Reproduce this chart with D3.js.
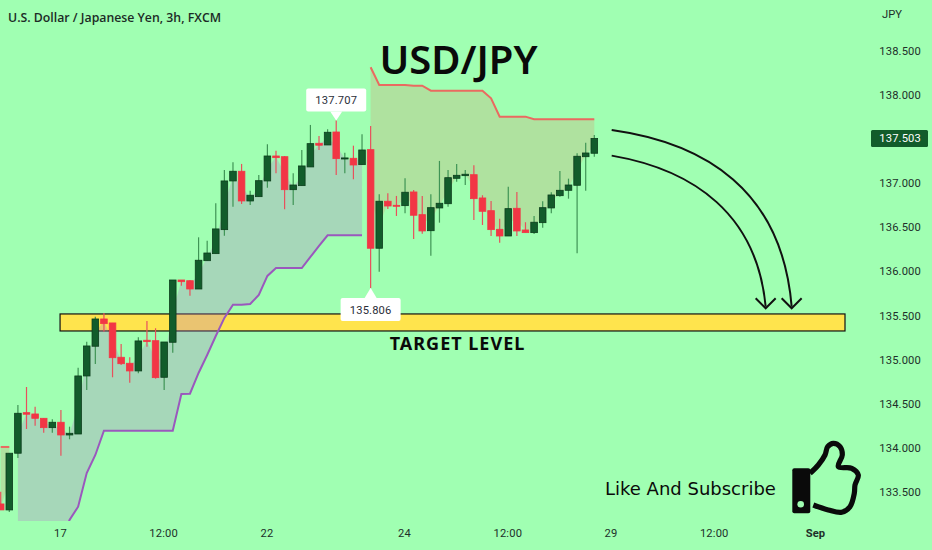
<!DOCTYPE html>
<html lang="en">
<head>
<meta charset="UTF-8">
<title>USD/JPY</title>
<script src="https://d3js.org/d3.v7.min.js"></script>
<style>
  html, body { margin: 0; padding: 0; background: #a0ffb2; }
  svg { display: block; }
  .axis text { font-family: Roboto, Arial, sans-serif; font-size: 11.2px; letter-spacing: 0.15px; fill: #20302a; }
  .axis path, .axis line { display: none; }
</style>
</head>
<body>
<svg width="932" height="550"></svg>
<script>
// candles (3h bars, last close 137.503)
const opens = [133.359,133.291,133.934,134.394,134.379,134.330,134.224,134.285,134.141,134.152,134.810,135.147,135.456,135.411,135.022,134.954,134.867,135.215,135.210,134.795,135.192,135.898,135.890,135.796,136.117,136.197,136.469,137.021,137.131,136.794,136.843,137.021,137.304,137.296,136.922,136.968,137.180,137.448,137.429,137.576,137.270,137.278,137.206,137.376,136.258,136.791,136.745,136.741,136.896,136.639,136.457,136.715,136.763,137.051,137.081,137.092,136.828,136.684,136.473,136.397,136.711,136.465,136.435,136.548,136.715,136.854,136.915,136.972,137.296,137.335];
const highs = [133.498,133.937,134.481,134.685,134.462,134.334,134.319,134.424,134.235,134.904,135.199,135.482,135.524,135.411,135.173,135.022,135.249,135.433,135.351,135.195,135.898,135.898,135.898,136.382,136.344,136.768,137.146,137.233,137.214,136.911,137.089,137.437,137.364,137.304,137.108,137.372,137.656,137.531,137.607,137.707,137.342,137.421,137.550,137.644,136.870,136.881,136.851,137.051,136.919,136.851,136.870,137.248,137.146,137.214,137.146,137.199,136.859,136.794,136.593,136.956,136.896,136.553,136.624,136.791,136.893,137.134,137.047,137.335,137.455,137.542];
const lows = [133.291,133.268,133.880,134.209,134.246,134.167,134.167,133.906,134.092,134.152,134.651,134.946,135.312,134.795,134.935,134.734,134.841,135.142,134.779,134.651,135.074,135.834,135.720,135.796,136.117,136.197,136.401,136.729,136.760,136.749,136.843,136.945,137.108,136.700,136.749,136.968,137.180,137.372,137.429,137.089,137.108,137.040,137.206,135.806,135.992,136.703,136.624,136.655,136.363,136.423,136.174,136.548,136.729,137.013,136.975,136.579,136.522,136.397,136.321,136.397,136.397,136.435,136.420,136.491,136.655,136.843,136.820,136.201,136.911,137.296];
const closes = [133.291,133.934,134.387,134.376,134.330,134.224,134.285,134.141,134.160,134.810,135.150,135.456,135.403,135.017,134.949,134.867,135.207,135.199,134.791,135.195,135.898,135.879,135.796,136.122,136.204,136.477,137.021,137.131,136.794,136.859,137.024,137.304,137.285,136.922,136.975,137.191,137.444,137.426,137.573,137.274,137.282,137.202,137.372,136.258,136.791,136.737,136.737,136.893,136.632,136.454,136.718,136.768,137.058,137.085,137.097,136.820,136.677,136.469,136.397,136.707,136.454,136.435,136.553,136.718,136.862,136.915,136.975,137.301,137.338,137.503];

// trend bands: one value per candle, null where the band is not active
const lowerBand = [null,null,132.9,132.9,132.9,132.9,132.9,132.9,133.177,133.328,133.710,133.914,134.190,134.190,134.190,134.190,134.190,134.190,134.190,134.190,134.190,134.606,134.609,134.844,135.048,135.263,135.468,135.618,135.618,135.626,135.728,135.944,136.034,136.034,136.034,136.034,136.159,136.284,136.405,136.405,136.405,136.405,136.405];
const upperBand = [134.005,134.005];
const upperBand2 = [138.310,138.109,138.109,138.109,138.109,138.100,138.101,138.045,138.045,138.045,138.045,138.045,138.045,138.045,137.958,137.750,137.750,137.750,137.750,137.720,137.720,137.720,137.720,137.720,137.720,137.720,137.720];
const upperBand2Start = 43;

const priceTicks = [138.5,138,137.5,137,136.5,136,135.5,135,134.5,134,133.5];
const timeTickIdx = [7,19,31,47,59,71,83,95];
const timeTickLabels = ["17","12:00","22","24","12:00","29","12:00","Sep"];

// drawn annotations in [candle index, price]: start, control, control, tip
const arrowOuter = [[71.02,137.599],[81.87,137.452],[90.82,136.919],[91.94,135.596]];
const arrowInner = [[71.02,137.308],[80.7,137.146],[87.91,136.635],[88.92,135.596]];
const targetZone = {x0: 6.9, x1: 98.14, top: 135.513, bottom: 135.320};

const bg = "#a0ffb2";
const svg = d3.select("svg");

const x = d3.scaleLinear().domain([0, 95]).range([0.7, 0.7 + 8.603 * 95]);
const y = d3.scaleLinear().domain([138.5, 133.5]).range([50.5, 491.5]);

svg.append("clipPath").attr("id", "pane").append("rect")
  .attr("x", 0).attr("y", 0).attr("width", 870).attr("height", 521);
const pane = svg.append("g").attr("clip-path", "url(#pane)");

// target zone
pane.append("rect")
  .attr("x", x(targetZone.x0)).attr("y", y(targetZone.top))
  .attr("width", x(targetZone.x1) - x(targetZone.x0))
  .attr("height", y(targetZone.bottom) - y(targetZone.top))
  .attr("fill", "#ffe44d").attr("stroke", "#111").attr("stroke-width", 1.2);

// band fills
const mid = i => (opens[i] + closes[i]) / 2;
const lowerIdx = d3.range(lowerBand.length).filter(i => lowerBand[i] != null);
const area = d3.area().x(i => x(i));
pane.append("path")
  .attr("d", area.y0(i => y(lowerBand[i])).y1(i => y(mid(i)))(lowerIdx))
  .attr("fill", "#b875cb").attr("fill-opacity", 0.29);
const upperIdx2 = d3.range(upperBand2.length).map(k => k + upperBand2Start);
pane.append("path")
  .attr("d", area.y0(i => y(upperBand2[i - upperBand2Start])).y1(i => y(mid(i)))(upperIdx2))
  .attr("fill", "#e2795a").attr("fill-opacity", 0.22);
pane.append("path")
  .attr("d", area.y0((i) => y(upperBand[i])).y1(i => y(mid(i)))([0, 1]))
  .attr("fill", "#e2795a").attr("fill-opacity", 0.22);

// band lines
const bandLine = d3.line().x(i => x(i));
pane.append("path")
  .attr("d", bandLine.y(i => y(lowerBand[i]))(lowerIdx))
  .attr("fill", "none").attr("stroke", "#9a58bd").attr("stroke-width", 2);
pane.append("path")
  .attr("d", bandLine.y(i => y(upperBand2[i - upperBand2Start]))(upperIdx2))
  .attr("fill", "none").attr("stroke", "#ea6a60").attr("stroke-width", 2);
pane.append("path")
  .attr("d", bandLine.y(i => y(upperBand[i]))([0, 1]))
  .attr("fill", "none").attr("stroke", "#ea6a60").attr("stroke-width", 2);

// candles
const candles = d3.range(opens.length).map(i => ({i, o: opens[i], h: highs[i], l: lows[i], c: closes[i]}));
const cg = pane.selectAll(".candle").data(candles).join("g").attr("class", "candle");
cg.append("line")
  .attr("x1", d => x(d.i)).attr("x2", d => x(d.i))
  .attr("y1", d => y(d.h)).attr("y2", d => y(d.l))
  .attr("stroke", d => d.c >= d.o ? "#3f9455" : "#e8505c")
  .attr("stroke-width", 1.2);
cg.append("rect")
  .attr("x", d => x(d.i) - 3.3).attr("width", 6.6)
  .attr("y", d => y(Math.max(d.o, d.c)))
  .attr("height", d => Math.max(1, Math.abs(y(d.o) - y(d.c))))
  .attr("fill", d => d.c >= d.o ? "#125c2b" : "#f23645")
  .attr("stroke", d => d.c >= d.o ? "#0c3d1c" : "#f23645")
  .attr("stroke-width", 0.8);

// curved arrows
[arrowOuter, arrowInner].forEach(pts => {
  const [p0, c1, c2, tip] = pts.map(p => [x(p[0]), y(p[1])]);
  const path = d3.path();
  path.moveTo(p0[0], p0[1]);
  path.bezierCurveTo(c1[0], c1[1], c2[0], c2[1], tip[0], tip[1]);
  const tx = tip[0], ty = tip[1] + 1.6;
  svg.append("path").attr("d", path.toString())
    .attr("fill", "none").attr("stroke", "#111").attr("stroke-width", 2);
  svg.append("path").attr("d", `M${tx - 10},${ty - 10}L${tx},${ty}L${tx + 10},${ty - 10}`)
    .attr("fill", "none").attr("stroke", "#111").attr("stroke-width", 2);
});

// high / low callouts
function callout(idx, price, dir, w) {
  const px = x(idx), py = y(price);
  const g = svg.append("g");
  const top = dir < 0 ? py - 32 : py + 10;
  const left = px - w / 2;
  g.append("rect").attr("x", left).attr("y", top).attr("width", w).attr("height", 23)
    .attr("rx", 2).attr("fill", "#fff");
  const base = dir < 0 ? top + 23 : top;
  g.append("path").attr("d", `M${px - 6},${base}L${px},${py}L${px + 6},${base}Z`).attr("fill", "#fff");
  g.append("text").attr("x", px).attr("y", top + 16).attr("text-anchor", "middle")
    .attr("font-family", "Roboto, Arial, sans-serif").attr("font-size", 11.2).attr("letter-spacing", 0.15).attr("fill", "#2a2e39")
    .text(price.toFixed(3));
}
callout(39, 137.707, -1, 60);
callout(43, 135.806, 1, 60);

// axes
const yAxis = svg.append("g").attr("class", "axis")
  .attr("transform", "translate(921,0)")
  .call(d3.axisLeft(y).tickValues(priceTicks).tickSize(0).tickPadding(0).tickFormat(d3.format(".3f")));
yAxis.selectAll("text").attr("dy", "0.35em");
const xAxis = svg.append("g").attr("class", "axis")
  .attr("transform", "translate(-1,529)")
  .call(d3.axisBottom(x).tickValues(timeTickIdx).tickSize(0).tickPadding(0)
    .tickFormat((d, i) => timeTickLabels[i]));
xAxis.selectAll("text")
  .attr("font-weight", d => d === 95 ? 700 : 400)
  .attr("dx", d => d === 95 ? -2 : 0);

// last price tag, covers the 137.500 tick
const last = closes[closes.length - 1];
svg.append("rect").attr("x", 871).attr("y", y(last) - 8.5).attr("width", 57).attr("height", 17)
  .attr("rx", 1.5).attr("fill", "#125c2b");
svg.append("text").attr("x", 921).attr("y", y(last) + 4).attr("text-anchor", "end")
  .attr("font-family", "Roboto, Arial, sans-serif").attr("font-size", 11.2).attr("letter-spacing", 0.15).attr("fill", "#fff")
  .text(last.toFixed(3));

svg.append("text").attr("x", 882).attr("y", 18)
  .attr("font-family", "Roboto, Arial, sans-serif").attr("font-size", 11.2).attr("fill", "#20302a").text("JPY");

// titles
svg.append("text").attr("x", 8).attr("y", 22)
  .attr("font-family", "'Open Sans', sans-serif").attr("font-weight", 600).attr("font-size", 12.3)
  .attr("fill", "#1c2b26").text("U.S. Dollar / Japanese Yen, 3h, FXCM");
svg.append("text").attr("x", 458.5).attr("y", 74).attr("text-anchor", "middle")
  .attr("font-family", "'Noto Sans', sans-serif").attr("font-weight", 600).attr("font-size", 40)
  .attr("fill", "#0a0a0a").text("USD/JPY");
svg.append("text").attr("x", 457.5).attr("y", 350).attr("text-anchor", "middle")
  .attr("font-family", "'Noto Sans', sans-serif").attr("font-weight", 700).attr("font-size", 18).attr("letter-spacing", 1)
  .attr("fill", "#0a0a0a").text("TARGET LEVEL");
svg.append("text").attr("x", 605).attr("y", 495)
  .attr("font-family", "'DejaVu Sans', sans-serif").attr("font-size", 18)
  .attr("fill", "#0a0a0a").text("Like And Subscribe");

// thumbs up
const thumbPts = [[810,473.3],[818.3,465],[825,455],[827.7,446.7],[833.3,443.3],[840,446.7],[842.3,455],[838.3,466.7],[851.7,468.3],[858.3,475],[855,485],[854.3,493.3],[850,506.7],[841.7,512.3],[828.3,510],[813.3,505]];
svg.append("path").attr("d", d3.line().curve(d3.curveCatmullRom)(thumbPts))
  .attr("fill", "none").attr("stroke", "#0a0a0a").attr("stroke-width", 5.2);
svg.append("rect").attr("x", 792.3).attr("y", 468.3).attr("width", 18).attr("height", 45).attr("rx", 2).attr("fill", "#0a0a0a");
svg.append("circle").attr("cx", 800.7).attr("cy", 504.3).attr("r", 3.3).attr("fill", bg);
</script>
</body>
</html>
